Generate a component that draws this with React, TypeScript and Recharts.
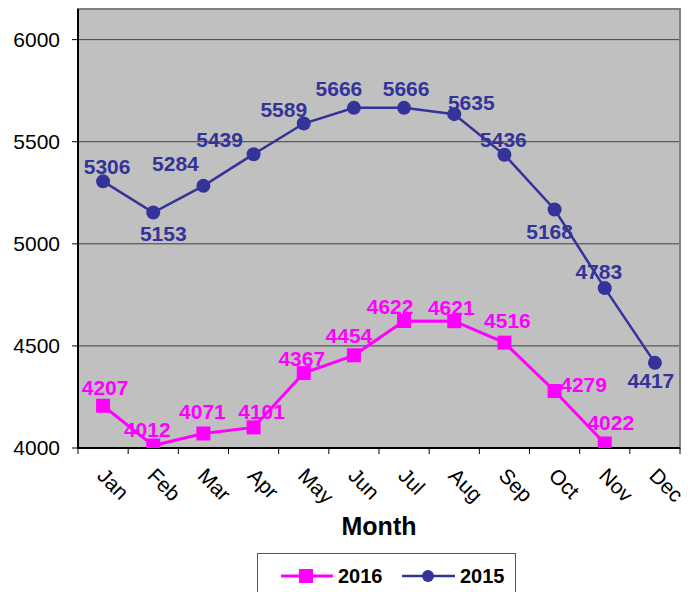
import {
  LineChart,
  Line,
  XAxis,
  YAxis,
  CartesianGrid,
  ReferenceArea,
  Legend,
  LabelList,
  Label,
} from "recharts";

const months = ["Jan", "Feb", "Mar", "Apr", "May", "Jun", "Jul", "Aug", "Sep", "Oct", "Nov", "Dec"];
const sales2016 = [4207, 4012, 4071, 4101, 4367, 4454, 4622, 4621, 4516, 4279, 4022, null];
const sales2015 = [5306, 5153, 5284, 5439, 5589, 5666, 5666, 5635, 5436, 5168, 4783, 4417];
const yTicks = [4000, 4500, 5000, 5500, 6000];

const FONT = "'Liberation Sans', Arial, sans-serif";
const NAVY = "#333399";
const MAGENTA = "#FF00FF";
const HALF_BAND = 602 / 12 / 2;

// label nudges (dx, dy from the point to the label centre), copied by eye
const nudge2015 = [
  [4, -15], [10, 21], [-28, -22], [-34, -15], [-20, -14], [-15, -19],
  [2, -19], [17, -12], [-1, -15], [-5, 22], [-6, -17], [-4, 18],
];
const nudge2016 = [
  [2, -18], [-6, -16], [-1, -22], [8, -16], [-2, -15], [-5, -20],
  [-14, -14], [-3, -14], [3, -22], [29, -7], [6, -21], [0, 0],
];

const data = months.map((m, i) => ({ month: m, y2016: sales2016[i], y2015: sales2015[i] }));

const makeLabel = (nudge: number[][], color: string) => (props: any) => {
  const { x, y, value, index } = props;
  if (value == null || x == null || y == null) return null;
  const [dx, dy] = nudge[index] || [0, -15];
  return (
    <text
      x={x + dx}
      y={y + dy + 7.5}
      textAnchor="middle"
      fill={color}
      fontSize={21}
      fontWeight="bold"
      fontFamily={FONT}
    >
      {value}
    </text>
  );
};

const SquareDot = (props: any) => {
  const { cx, cy, index } = props;
  if (cx == null || cy == null) return <g key={`sq-${index}`} />;
  return <rect key={`sq-${index}`} x={cx - 7} y={cy - 7} width={14} height={14} fill={MAGENTA} />;
};

const RoundDot = (props: any) => {
  const { cx, cy, index } = props;
  if (cx == null || cy == null) return <g key={`ci-${index}`} />;
  return <circle key={`ci-${index}`} cx={cx} cy={cy} r={7} fill={NAVY} />;
};

const MonthTick = (props: any) => {
  const { x, y, payload, index } = props;
  const tx = x - 7;
  const ty = y + 29;
  return (
    <g>
      <line x1={x - HALF_BAND} x2={x - HALF_BAND} y1={y} y2={y + 6} stroke="#000" />
      {index === months.length - 1 && (
        <line x1={x + HALF_BAND} x2={x + HALF_BAND} y1={y} y2={y + 6} stroke="#000" />
      )}
      <text x={tx} y={ty} transform={`rotate(45 ${tx} ${ty})`} fontSize={21} fontFamily={FONT} fill="#000">
        {payload.value}
      </text>
    </g>
  );
};

const LegendBox = () => (
  <div style={{ width: 259, height: 45, border: "1px solid #555", background: "#fff", boxSizing: "border-box" }}>
    <svg width={257} height={43}>
      <line x1={23} x2={75} y1={22} y2={22} stroke={MAGENTA} strokeWidth={3} />
      <rect x={41} y={15} width={14} height={14} fill={MAGENTA} />
      <text x={80} y={29} fontSize={20} fontWeight="bold" fontFamily={FONT} fill="#000">2016</text>
      <line x1={144} x2={197} y1={22} y2={22} stroke={NAVY} strokeWidth={2.5} />
      <circle cx={170} cy={22} r={6} fill={NAVY} />
      <text x={202} y={29} fontSize={20} fontWeight="bold" fontFamily={FONT} fill="#000">2015</text>
    </svg>
  </div>
);

export default function App() {
  return (
    <div style={{ position: "absolute", left: 0, top: 0, background: "#fff" }}>
      <LineChart width={695} height={592} data={data} margin={{ top: 9, right: 15, left: 0, bottom: 40 }}>
        <CartesianGrid horizontal vertical={false} fill="#C0C0C0" stroke="#404040" />
        <ReferenceArea y1={4000} y2={6150} fill="none" stroke="#808080" strokeWidth={2} ifOverflow="extendDomain" />
        <XAxis
          dataKey="month"
          scale="band"
          interval={0}
          height={104}
          tickSize={0}
          tickMargin={0}
          tickLine={false}
          axisLine={{ stroke: "#000", strokeWidth: 2 }}
          tick={<MonthTick />}
        >
          <Label
            value="Month"
            position="insideBottom"
            offset={17}
            fill="#000"
            fontSize={25}
            fontWeight="bold"
            fontFamily={FONT}
          />
        </XAxis>
        <YAxis
          domain={[4000, 6150]}
          ticks={yTicks}
          width={78}
          tickSize={6}
          tickMargin={12}
          allowDataOverflow
          axisLine={{ stroke: "#000", strokeWidth: 2 }}
          tickLine={{ stroke: "#000" }}
          tick={{ fontSize: 21, fill: "#000", fontFamily: FONT }}
        />
        <Legend
          layout="horizontal"
          verticalAlign="middle"
          content={<LegendBox />}
          wrapperStyle={{ left: 257, top: 553, width: 259 }}
        />
        <Line
          dataKey="y2016"
          name="2016"
          stroke={MAGENTA}
          strokeWidth={3}
          dot={<SquareDot />}
          activeDot={false}
          isAnimationActive={false}
        >
          <LabelList dataKey="y2016" content={makeLabel(nudge2016, MAGENTA)} />
        </Line>
        <Line
          dataKey="y2015"
          name="2015"
          stroke={NAVY}
          strokeWidth={2.5}
          dot={<RoundDot />}
          activeDot={false}
          isAnimationActive={false}
        >
          <LabelList dataKey="y2015" content={makeLabel(nudge2015, NAVY)} />
        </Line>
      </LineChart>
    </div>
  );
}
